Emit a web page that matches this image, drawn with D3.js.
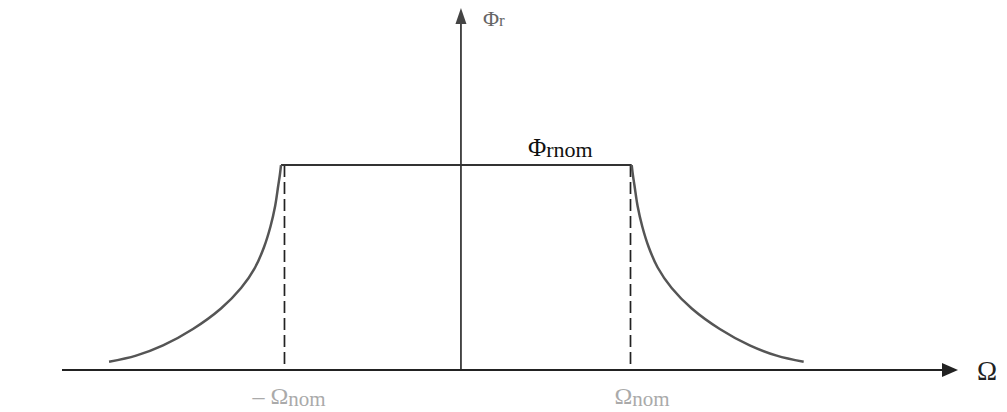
<!DOCTYPE html>
<html>
<head>
<meta charset="utf-8">
<script src="https://cdn.jsdelivr.net/npm/d3@7"></script>
<style>
  html, body { margin: 0; padding: 0; background: #fff; }
  svg { display: block; }
  text { font-family: "Liberation Serif", "DejaVu Serif", serif; }
</style>
</head>
<body>
<svg id="chart" width="1007" height="412"></svg>
<script>
// Rotor flux reference versus speed: constant flux up to the nominal speed,
// field weakening (flux falls off) beyond it, for both rotation directions.
// Units: speed in per-unit of nominal speed, flux in per-unit of nominal flux.

const axisRangeOmega = [-2.306, 2.873];   // extent of the Ω axis
const axisRangeFlux = [0, 1.766];         // extent of the Φr axis

const nominalSpeeds = [-1.02, 0.98];      // −Ωnom, Ωnom
const nominalFlux = 1.0;                  // Φrnom

// Flux levels along the field-weakening branches
const weakenFlux = [1.00, 0.95, 0.90, 0.80, 0.70, 0.60, 0.50, 0.40, 0.30, 0.20, 0.12, 0.07, 0.04];

// Speeds reached at those flux levels, negative direction
const weakenNegOmega = [-1.040, -1.047, -1.056, -1.074, -1.101, -1.138, -1.190, -1.271, -1.387, -1.549, -1.722, -1.878, -2.034];

// Speeds reached at those flux levels, positive direction
const weakenPosOmega = [0.987, 0.994, 1.003, 1.021, 1.048, 1.085, 1.137, 1.218, 1.334, 1.496, 1.669, 1.825, 1.981];

const svg = d3.select("#chart");

const x = d3.scaleLinear().domain(axisRangeOmega).range([62, 958]);
const y = d3.scaleLinear().domain(axisRangeFlux).range([370, 8]);

const ink = "#222";

// Horizontal Ω axis with arrow head
svg.append("line")
  .attr("x1", x(axisRangeOmega[0])).attr("x2", x(axisRangeOmega[1]) - 12)
  .attr("y1", y(0)).attr("y2", y(0))
  .attr("stroke", ink).attr("stroke-width", 2.2);
svg.append("path")
  .attr("d", d3.line()([
    [x(axisRangeOmega[1]), y(0)],
    [x(axisRangeOmega[1]) - 16, y(0) - 7],
    [x(axisRangeOmega[1]) - 16, y(0) + 7]
  ]) + "Z")
  .attr("fill", ink);

// Vertical Φr axis with arrow head
svg.append("line")
  .attr("x1", x(0)).attr("x2", x(0))
  .attr("y1", y(0)).attr("y2", y(axisRangeFlux[1]) + 12)
  .attr("stroke", ink).attr("stroke-width", 1.6);
svg.append("path")
  .attr("d", d3.line()([
    [x(0), y(axisRangeFlux[1])],
    [x(0) - 5.5, y(axisRangeFlux[1]) + 16],
    [x(0) + 5.5, y(axisRangeFlux[1]) + 16]
  ]) + "Z")
  .attr("fill", "#444");

// Dashed markers at ±Ωnom
svg.selectAll("line.nom")
  .data(nominalSpeeds)
  .join("line")
  .attr("class", "nom")
  .attr("x1", d => x(d)).attr("x2", d => x(d))
  .attr("y1", y(nominalFlux)).attr("y2", y(0))
  .attr("stroke", ink).attr("stroke-width", 1.7)
  .attr("stroke-dasharray", "12,5");

// Constant-flux plateau
svg.append("line")
  .attr("x1", x(weakenNegOmega[0])).attr("x2", x(weakenPosOmega[0]))
  .attr("y1", y(nominalFlux)).attr("y2", y(nominalFlux))
  .attr("stroke", "#333").attr("stroke-width", 2);

// Field-weakening curves
const curve = d3.line()
  .x(d => x(d[0])).y(d => y(d[1]))
  .curve(d3.curveCatmullRom.alpha(0.5));

[weakenNegOmega, weakenPosOmega].forEach(om => {
  svg.append("path")
    .attr("d", curve(d3.zip(om, weakenFlux)))
    .attr("fill", "none")
    .attr("stroke", "#555").attr("stroke-width", 2.5);
});

// Labels
const flux = svg.append("text")
  .attr("x", x(0) + 22).attr("y", y(axisRangeFlux[1]) + 18)
  .attr("fill", "#666").attr("font-size", 22);
flux.append("tspan").text("Φ");
flux.append("tspan").attr("font-size", 17).text("r");

const fluxNom = svg.append("text")
  .attr("x", x(0) + 67).attr("y", y(nominalFlux) - 9)
  .attr("fill", "#111").attr("font-size", 25);
fluxNom.append("tspan").text("Φ");
fluxNom.append("tspan").attr("font-size", 22).attr("dy", 1).text("rnom");

svg.append("text")
  .attr("x", x(axisRangeOmega[1]) + 19).attr("y", y(0) + 10)
  .attr("fill", "#222").attr("font-size", 27)
  .text("Ω");

const tickLabels = ["– Ω", "Ω"];
svg.selectAll("text.nomlabel")
  .data(nominalSpeeds)
  .join("text")
  .attr("class", "nomlabel")
  .attr("x", (d, i) => x(d) + (i === 0 ? -32 : -16))
  .attr("y", y(0) + 34)
  .attr("fill", "#aaa").attr("font-size", 24)
  .each(function(d, i) {
    const t = d3.select(this);
    t.append("tspan").text(tickLabels[i]);
    t.append("tspan").attr("font-size", 21).attr("dy", 2).text("nom");
  });
</script>
</body>
</html>
